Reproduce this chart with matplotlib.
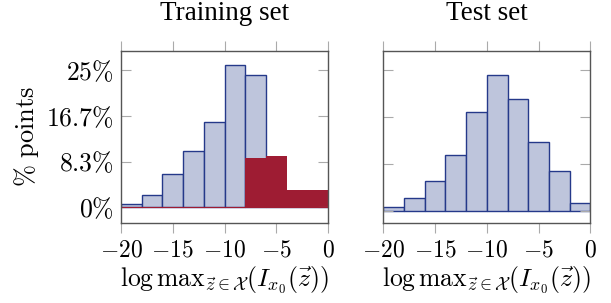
import matplotlib
matplotlib.use("Agg")
import matplotlib.pyplot as plt
import numpy as np

plt.rcParams['mathtext.fontset'] = 'cm'

bin_edges = [-20, -18, -16, -14, -12, -10, -8, -6, -4, -2, 0]
train_all = [0.67, 2.3, 6.1, 10.3, 15.6, 26.0, 24.15, 0, 0, 0]
train_red = [0, 0, 0, 0, 0, 0, 8.9, 9.35, 3.2, 3.1]
test_all = [0.65, 2.36, 5.38, 9.87, 17.55, 24.1, 19.86, 12.17, 7.03, 1.36]

yticks = [0, 8.33, 16.67, 25]
ytick_labels = [r'$0\%$', r'$8.3\%$', r'$16.7\%$', r'$25\%$']
xticks = [-20, -15, -10, -5, 0]
xtick_labels = [r'$-20$', r'$-15$', r'$-10$', r'$-5$', r'$0$']

blue_face = '#bec5dc'
blue_edge = '#25398a'
red = '#9e1c33'
frame = '#555555'
tickc = '#aaaaaa'
fs = 17

fig = plt.figure(figsize=(6.11, 3.03), dpi=100)
ax1 = fig.add_axes([121/611, 1 - 222.7/303, 207/611, 171.7/303])
ax2 = fig.add_axes([383.3/611, 1 - 222.7/303, 207/611, 171.7/303])

edges = np.array(bin_edges)
lefts = edges[:-1]
widths = np.diff(edges)

ax1.bar(lefts, train_all, width=widths, align='edge', color=blue_face,
        edgecolor=blue_edge, linewidth=1.0)
ax1.stairs(train_red, edges, fill=True, baseline=0, color=red, linewidth=0.8)
ax1.axhline(0, color=red, linewidth=0.8)
ax2.bar(lefts, test_all, width=widths, align='edge', color=blue_face,
        edgecolor=blue_edge, linewidth=1.0)

xlabel = r'$\log\mathrm{max}_{\vec{z}\in\mathcal{X}}(I_{x_0}(\vec{z}))$'
for ax, title, ylim in [(ax1, 'Training set', (-2.8, 28.46)),
                        (ax2, 'Test set', (-2.07, 28.37))]:
    ax.set_xlim(-20, 0)
    ax.set_ylim(*ylim)
    ax.set_xticks(xticks)
    ax.set_xticklabels(xtick_labels, fontsize=fs)
    ax.set_yticks(yticks)
    ax.tick_params(axis='x', direction='out', length=7.5, width=0.8, color=tickc,
                   top=True, pad=3)
    ax.tick_params(axis='y', direction='in', length=7.5, width=0.8, color=tickc,
                   right=True, pad=5)
    for s in ax.spines.values():
        s.set_color(frame)
        s.set_linewidth(1.0)
    ax.set_title(title, fontsize=19.5, family='Liberation Serif', pad=22)
    ax.set_xlabel(xlabel, fontsize=18.5, labelpad=2)

ax1.set_yticklabels(ytick_labels, fontsize=18.5)
ax2.set_yticklabels([])
ax1.set_ylabel(r'$\%\ \mathrm{points}$', fontsize=19, labelpad=4)

fig.savefig('out.png', dpi=100)
